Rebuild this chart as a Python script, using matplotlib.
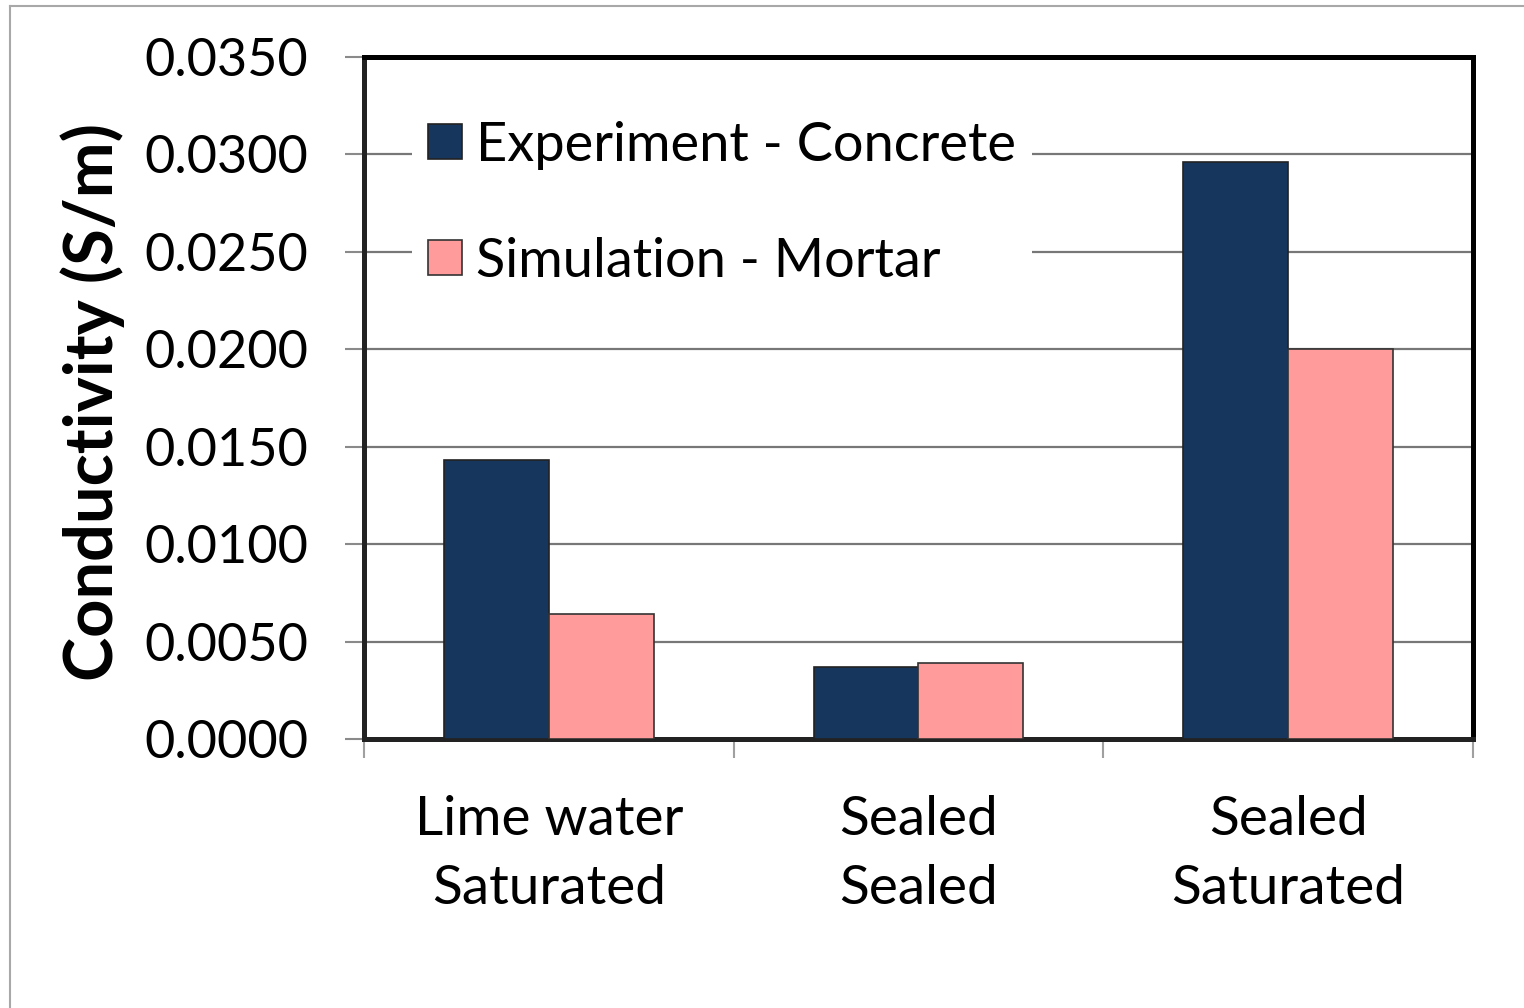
import numpy as np
import matplotlib.pyplot as plt
from matplotlib.lines import Line2D

# Data
categories = ["Lime water\nSaturated", "Sealed\nSealed", "Sealed\nSaturated"]
series_names = ["Experiment - Concrete", "Simulation - Mortar"]
experiment_concrete = [0.0143, 0.0037, 0.0296]
simulation_mortar = [0.0064, 0.0039, 0.0200]
y_ticks = [0.0, 0.005, 0.010, 0.015, 0.020, 0.025, 0.030, 0.035]

navy = "#17365d"
pink = "#ff9b9b"

plt.rcParams['font.family'] = ['Lato', 'DejaVu Sans']

fig = plt.figure(figsize=(15.24, 10.08), dpi=100)
ax = fig.add_axes([364 / 1524, 1 - 739 / 1008, 1109 / 1524, 682 / 1008])

# thin grey frame around the picture
fig.add_artist(Line2D([10 / 1524, 1.0], [1 - 6 / 1008] * 2, transform=fig.transFigure,
                      color="#a8a8a8", lw=1.5))
fig.add_artist(Line2D([10 / 1524] * 2, [0.0, 1 - 6 / 1008], transform=fig.transFigure,
                      color="#a8a8a8", lw=1.5))

x = np.arange(len(categories))
w = 0.284
ax.bar(x - w / 2, experiment_concrete, w, color=navy, edgecolor="#222222", lw=1.2,
       label=series_names[0], zorder=3)
ax.bar(x + w / 2, simulation_mortar, w, color=pink, edgecolor="#333333", lw=1.2,
       label=series_names[1], zorder=3)

ax.set_xlim(-0.5, 2.5)
ax.set_ylim(0, 0.035)

# y axis
ax.set_yticks(y_ticks)
ax.set_yticklabels([f"{v:.4f}" for v in y_ticks])
ax.tick_params(axis="y", direction="out", length=14, width=1.5, color="#8a8a8a",
               labelsize=37.5, pad=26)
ax.yaxis.grid(True, color="#777777", lw=1.6, zorder=1)
ax.set_axisbelow(True)

# x axis: ticks between groups, labels at group centres
ax.set_xticks([-0.5, 0.5, 1.5, 2.5])
ax.set_xticklabels([])
ax.tick_params(axis="x", which="major", direction="out", length=14, width=1.5,
               color="#a0a0a0")
ax.set_xticks(x, minor=True)
ax.set_xticklabels(categories, minor=True, fontsize=39.5, linespacing=1.5)
ax.tick_params(axis="x", which="minor", length=0, pad=40)

ax.set_ylabel("Conductivity (S/m)", fontsize=48, fontweight="bold")
ax.yaxis.set_label_coords(-0.2155, 0.494)

for side in ["top", "right"]:
    ax.spines[side].set_color("black")
    ax.spines[side].set_linewidth(3.6)
for side in ["left", "bottom"]:
    ax.spines[side].set_color("#222222")
    ax.spines[side].set_linewidth(3.6)

leg = ax.legend(loc="upper left", bbox_to_anchor=(0.043, 0.93), fontsize=39,
                frameon=True, facecolor="white", edgecolor="none", framealpha=1,
                fancybox=False, handlelength=0.62, handleheight=0.62,
                handletextpad=0.27, labelspacing=1.23, borderpad=0.3,
                borderaxespad=0)
leg.set_zorder(5)

fig.savefig("out.png", dpi=100, facecolor="white")
